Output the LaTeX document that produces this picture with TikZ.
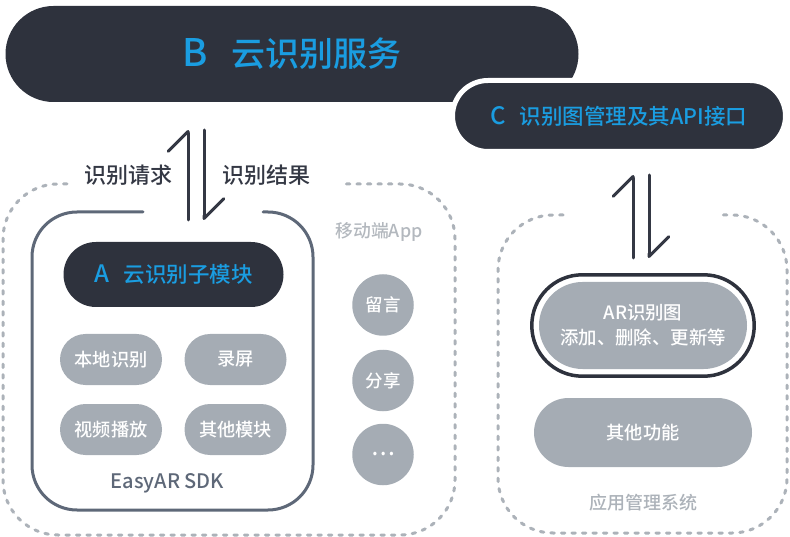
\documentclass[tikz,border=0pt]{standalone}
\usepackage{fontspec}
\setmainfont{Noto Sans CJK SC}
\newfontfamily\medfont{Noto Sans CJK SC Medium}
\usepackage{tikz}
\usetikzlibrary{arrows.meta,calc,positioning}

\definecolor{darkbg}{HTML}{2E323D}
\definecolor{titleblue}{HTML}{1A9DE1}
\definecolor{pillgray}{HTML}{A5ACB4}
\definecolor{dashgray}{HTML}{ACB2B9}
\definecolor{sdkgray}{HTML}{5E6878}
\definecolor{labelgray}{HTML}{B3B8BE}
\definecolor{arrowdark}{HTML}{343844}

\newcommand{\setfs}[1]{\fontsize{#1}{#1}\selectfont\medfont}

\begin{document}
\begin{tikzpicture}[x=1pt,y=1pt,
    pill/.style 2 args={minimum width=#1pt, minimum height=#2pt, rounded corners=#2pt/2},
    darkpill/.style={fill=darkbg, text=titleblue, inner sep=0pt},
    graypill/.style={fill=pillgray, text=white, inner sep=0pt, font=\setfs{18.2}},
    roundbtn/.style={circle, fill=pillgray, text=white, inner sep=0pt, minimum size=61.5pt, font=\setfs{17.5}},
    dashbox/.style={draw=dashgray, line width=3pt, line cap=round, dash pattern=on 3.5pt off 7pt},
    harp/.style={draw=arrowdark, line width=3pt, line cap=round, -{Straight Barb[harpoon, angle=90:28pt, round]}}
  ]
  \useasboundingbox (0,0) rectangle (790,-537);

  % B cloud service
  \node[darkpill, pill={573}{96}, font=\setfs{34}] (cloud) at (292,-54) {{\fontsize{38}{38}\selectfont B}\hspace{0.72em}云识别服务};

  % C target api
  \node[darkpill, pill={333}{71}, draw=white, line width=5pt, font=\setfs{21.5}] (api) at (619,-116) {{\fontsize{24}{24}\selectfont C}\hspace{0.62em}识别图管理及其API接口};

  % request / result
  \coordinate (reqbot) at (188,-220);
  \coordinate (reqtop) at (188,-130);
  \coordinate (restop) at (204,-130);
  \coordinate (resbot) at (204,-220);
  \draw[harp] (reqbot) -- (reqtop);
  \draw[harp] (restop) -- (resbot);
  \node[text=arrowdark, font=\setfs{22}] (reqlabel) at (128,-175) {识别请求};
  \node[text=arrowdark, font=\setfs{22}] (reslabel) at (266,-175) {识别结果};

  % mobile app
  \draw[dashbox, rounded corners=55pt] (67,-184) -- (3,-184) -- (3,-535) -- (455,-535) -- (455,-184) -- (340,-184);
  \node[text=labelgray, font=\setfs{17.8}] (applabel) at (379,-232) {移动端App};
  \node[roundbtn] (comment) at (383,-305) {留言};
  \node[roundbtn] (share) at (383,-380.5) {分享};
  \node[roundbtn, font=\setfs{22}] (more) at (383,-454.5) {⋯};

  % EasyAR SDK
  \draw[draw=sdkgray, line width=3pt, line cap=round, rounded corners=45pt] (143,-212) -- (32,-212) -- (32,-510) -- (313,-510) -- (313,-212) -- (263,-212);
  \node[darkpill, pill={220}{65}, font=\setfs{21.5}] (submodule) at (173.5,-274.5) {{\fontsize{24}{24}\selectfont A}\hspace{0.7em}云识别子模块};
  \node[graypill, pill={102}{51}] (localrec) at (111,-359.5) {本地识别};
  \node[graypill, pill={102}{51}] (record) at (235.5,-359.5) {录屏};
  \node[graypill, pill={102}{51}] (video) at (111,-429.5) {视频播放};
  \node[graypill, pill={102}{51}] (othermod) at (235.5,-429.5) {其他模块};
  \node[text=sdkgray, font=\setfs{20}] (sdklabel) at (167.5,-483) {EasyAR SDK};

  % app management
  \coordinate (mgrbot) at (633,-258);
  \coordinate (mgrtop) at (633,-175);
  \coordinate (apitop) at (649,-175);
  \coordinate (apibot) at (649,-258);
  \draw[harp] (mgrbot) -- (mgrtop);
  \draw[harp] (apitop) -- (apibot);
  \draw[dashbox, rounded corners=55pt] (563,-215) -- (498,-215) -- (498,-533) -- (787,-533) -- (787,-215) -- (722,-215);
  \node[graypill, pill={208}{87}, align=center, font=\fontsize{18.4}{25}\selectfont\medfont] (argraph) at (643,-325.5) {AR识别图\\添加、删除、更新等};
  \draw[draw=darkbg, line width=3.5pt, rounded corners=50.5pt] ($(argraph.south west)+(-7,-7)$) rectangle ($(argraph.north east)+(7,7)$);
  \node[graypill, pill={218}{69}] (otherfunc) at (643,-432.5) {其他功能};
  \node[text=dashgray, font=\setfs{18}] (mgrlabel) at (643,-503) {应用管理系统};
\end{tikzpicture}
\end{document}
